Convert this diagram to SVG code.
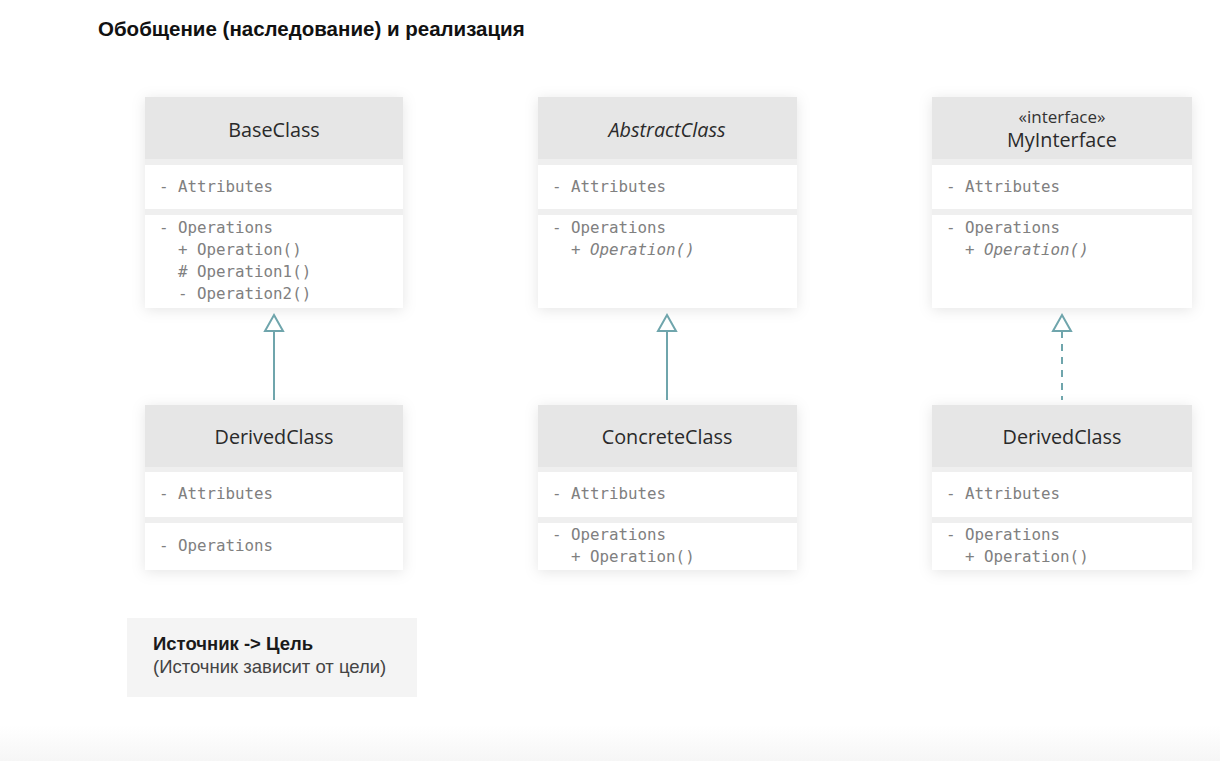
<svg xmlns="http://www.w3.org/2000/svg" width="1220" height="761" viewBox="0 0 1220 761">
<defs>
<filter id="sh" x="-15%" y="-15%" width="130%" height="140%">
<feDropShadow dx="0" dy="2" stdDeviation="7" flood-color="#000" flood-opacity="0.10"/>
</filter>
<linearGradient id="bot" x1="0" y1="0" x2="0" y2="1">
<stop offset="0" stop-color="#ffffff"/>
<stop offset="1" stop-color="#f6f6f6"/>
</linearGradient>
</defs>
<style>
.bg{fill:#efefef;filter:url(#sh)}
.hd{fill:#e6e6e6}
.sec{fill:#ffffff}
.nm{font-family:"Open Sans","Noto Sans",sans-serif;font-size:19.8px;fill:#2a2a2a;text-anchor:middle}
.st{font-family:"Open Sans","Noto Sans",sans-serif;font-size:17px;fill:#333;text-anchor:middle}
.it{font-style:italic}
.mono{font-family:"DejaVu Sans Mono","Liberation Mono",monospace;font-size:15.8px;fill:#808080}
.title{font-family:"Liberation Sans",Arial,sans-serif;font-size:20.5px;font-weight:bold;fill:#111}
.nb{font-family:"Liberation Sans",Arial,sans-serif;font-size:18.5px;font-weight:bold;fill:#1a1a1a}
.nr{font-family:"Liberation Sans",Arial,sans-serif;font-size:18.5px;fill:#444}
.ln{stroke:#6fa5ac;stroke-width:2;fill:none}
.ah{stroke:#6fa5ac;stroke-width:2;fill:#ffffff;stroke-linejoin:miter}
</style>
<rect x="0" y="0" width="1220" height="761" fill="#ffffff"/>
<rect x="0" y="725" width="1220" height="36" fill="url(#bot)"/>

<text class="title" x="98" y="36">Обобщение (наследование) и реализация</text>

<g id="BaseClass">
<rect class="bg" x="145" y="97" width="258" height="211"/>
<rect class="hd" x="145" y="97" width="258" height="62"/>
<rect class="sec" x="145" y="165" width="258" height="44"/>
<rect class="sec" x="145" y="215" width="258" height="93"/>
<text class="nm" x="274" y="137">BaseClass</text>
<text class="mono" x="159" y="192">- Attributes</text>
<text class="mono" x="159" y="233">- Operations</text>
<text class="mono" x="178" y="255">+ Operation()</text>
<text class="mono" x="178" y="277"># Operation1()</text>
<text class="mono" x="178" y="299">- Operation2()</text>
</g>

<g id="AbstractClass">
<rect class="bg" x="538" y="97" width="259" height="211"/>
<rect class="hd" x="538" y="97" width="259" height="62"/>
<rect class="sec" x="538" y="165" width="259" height="44"/>
<rect class="sec" x="538" y="215" width="259" height="93"/>
<text class="nm it" x="667" y="137">AbstractClass</text>
<text class="mono" x="552" y="192">- Attributes</text>
<text class="mono" x="552" y="233">- Operations</text>
<text class="mono it" x="571" y="255">+ Operation()</text>
</g>

<g id="MyInterface">
<rect class="bg" x="932" y="97" width="260" height="211"/>
<rect class="hd" x="932" y="97" width="260" height="62"/>
<rect class="sec" x="932" y="165" width="260" height="44"/>
<rect class="sec" x="932" y="215" width="260" height="93"/>
<text class="st" x="1062" y="123">«interface»</text>
<text class="nm" x="1062" y="147">MyInterface</text>
<text class="mono" x="946" y="192">- Attributes</text>
<text class="mono" x="946" y="233">- Operations</text>
<text class="mono it" x="965" y="255">+ Operation()</text>
</g>

<g id="DerivedClass1">
<rect class="bg" x="145" y="405" width="258" height="165"/>
<rect class="hd" x="145" y="405" width="258" height="62"/>
<rect class="sec" x="145" y="472" width="258" height="45"/>
<rect class="sec" x="145" y="523" width="258" height="47"/>
<text class="nm" x="274" y="444">DerivedClass</text>
<text class="mono" x="159" y="499">- Attributes</text>
<text class="mono" x="159" y="551">- Operations</text>
</g>

<g id="ConcreteClass">
<rect class="bg" x="538" y="405" width="259" height="165"/>
<rect class="hd" x="538" y="405" width="259" height="62"/>
<rect class="sec" x="538" y="472" width="259" height="45"/>
<rect class="sec" x="538" y="523" width="259" height="47"/>
<text class="nm" x="667" y="444">ConcreteClass</text>
<text class="mono" x="552" y="499">- Attributes</text>
<text class="mono" x="552" y="540">- Operations</text>
<text class="mono" x="571" y="562">+ Operation()</text>
</g>

<g id="DerivedClass2">
<rect class="bg" x="932" y="405" width="260" height="165"/>
<rect class="hd" x="932" y="405" width="260" height="62"/>
<rect class="sec" x="932" y="472" width="260" height="45"/>
<rect class="sec" x="932" y="523" width="260" height="47"/>
<text class="nm" x="1062" y="444">DerivedClass</text>
<text class="mono" x="946" y="499">- Attributes</text>
<text class="mono" x="946" y="540">- Operations</text>
<text class="mono" x="965" y="562">+ Operation()</text>
</g>

<g id="connectors">
<line class="ln" x1="274" y1="331" x2="274" y2="400"/>
<path class="ah" d="M274,315 L283,331 L265,331 Z"/>
<line class="ln" x1="667" y1="331" x2="667" y2="400"/>
<path class="ah" d="M667,315 L676,331 L658,331 Z"/>
<line class="ln" x1="1062" y1="331" x2="1062" y2="400" stroke-dasharray="7 6"/>
<path class="ah" d="M1062,315 L1071,331 L1053,331 Z"/>
</g>

<g id="note">
<rect x="127" y="618" width="290" height="79" fill="#f4f4f4"/>
<text class="nb" x="153" y="650">Источник -&gt; Цель</text>
<text class="nr" x="153" y="673">(Источник зависит от цели)</text>
</g>
</svg>
